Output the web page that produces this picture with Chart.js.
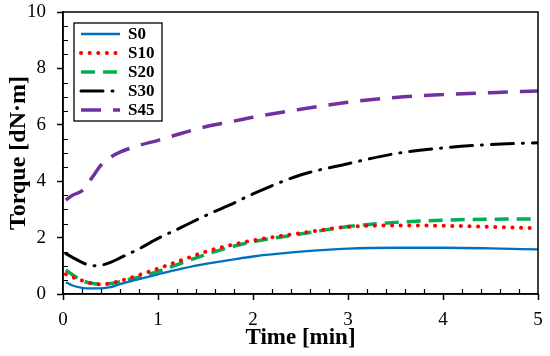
<!DOCTYPE html>
<html>
<head>
<meta charset="utf-8">
<script src="https://cdn.jsdelivr.net/npm/chart.js@4"></script>
<style>
  html, body { margin: 0; padding: 0; background: #fff; }
  #wrap { width: 550px; height: 356px; }
</style>
</head>
<body>
<div id="wrap"><canvas id="torque"></canvas></div>
<script>
// tempo em minutos (eixo x)
const times = [0.03, 0.1, 0.2, 0.3, 0.4, 0.5, 0.6, 0.8, 1.0, 1.25, 1.5, 1.75, 2.0, 2.5, 3.0, 3.5, 4.0, 4.5, 5.0];

// torque [dN·m]
const s0  = [0.42, 0.30, 0.22, 0.20, 0.20, 0.24, 0.35, 0.53, 0.70, 0.90, 1.07, 1.20, 1.33, 1.50, 1.61, 1.64, 1.64, 1.62, 1.58];
const s10 = [0.70, 0.60, 0.48, 0.38, 0.34, 0.38, 0.46, 0.67, 0.90, 1.20, 1.50, 1.72, 1.90, 2.16, 2.38, 2.43, 2.42, 2.38, 2.33];
const s20 = [0.85, 0.68, 0.48, 0.38, 0.35, 0.37, 0.44, 0.60, 0.80, 1.10, 1.40, 1.65, 1.85, 2.13, 2.39, 2.54, 2.62, 2.65, 2.66];
const s30 = [1.43, 1.30, 1.12, 1.00, 1.02, 1.12, 1.28, 1.60, 1.97, 2.37, 2.78, 3.15, 3.55, 4.22, 4.62, 4.98, 5.18, 5.30, 5.36];
const s45 = [3.33, 3.50, 3.66, 4.10, 4.57, 4.85, 5.03, 5.27, 5.45, 5.70, 5.93, 6.10, 6.27, 6.55, 6.80, 6.97, 7.07, 7.14, 7.20];

const seriesNames = ['S0', 'S10', 'S20', 'S30', 'S45'];

const serif = "'Liberation Serif', 'Times New Roman', serif";

function pontos(values) {
    return values.map((v, i) => ({ x: times[i], y: v }));
}

// moldura + marcas menores (para dentro)
const frame = {
    id: 'frame',
    afterDraw(chart) {
        const a = chart.chartArea;
        const ctx = chart.ctx;
        const sx = chart.scales.x, sy = chart.scales.y;
        ctx.save();
        ctx.strokeStyle = '#000';
        ctx.lineWidth = 1.5;
        ctx.strokeRect(a.left, a.top, a.right - a.left, a.bottom - a.top);
        ctx.lineWidth = 1.2;
        ctx.beginPath();
        for (let k = 1; k < 25; k++) {
            if (k % 5 === 0) continue;
            const px = Math.round(sx.getPixelForValue(k * 0.2)) + 0.5;
            ctx.moveTo(px, a.bottom);
            ctx.lineTo(px, a.bottom - 5);
        }
        for (let k = 1; k < 20; k++) {
            if (k % 4 === 0) continue;
            const py = Math.round(sy.getPixelForValue(k * 0.5)) + 0.5;
            ctx.moveTo(a.left, py);
            ctx.lineTo(a.left + 5, py);
        }
        ctx.stroke();
        ctx.restore();
    }
};

// legenda com caixa dentro da área do gráfico
const boxLegend = {
    id: 'boxLegend',
    afterDraw(chart) {
        const ctx = chart.ctx;
        const left = 74, top = 23, w = 88, h = 98;
        ctx.save();
        ctx.fillStyle = '#fff';
        ctx.fillRect(left, top, w, h);
        ctx.strokeStyle = '#000';
        ctx.lineWidth = 1.3;
        ctx.strokeRect(left, top, w, h);
        ctx.font = "bold 17px " + serif;
        ctx.textBaseline = 'middle';
        chart.data.datasets.forEach((ds, i) => {
            const y = 34 + i * 19;
            ctx.beginPath();
            ctx.strokeStyle = ds.borderColor;
            ctx.lineWidth = ds.borderWidth;
            ctx.lineCap = ds.borderCapStyle || 'butt';
            ctx.setLineDash(ds.borderDash || []);
            ctx.moveTo(81, y);
            ctx.lineTo(120, y);
            ctx.stroke();
            ctx.setLineDash([]);
            ctx.fillStyle = '#000';
            ctx.fillText(ds.label, 128, y + 1);
        });
        ctx.restore();
    }
};

const ctx = document.getElementById('torque').getContext('2d');

new Chart(ctx, {
    type: 'line',
    data: {
        datasets: [
            {
                label: seriesNames[0],
                data: pontos(s0),
                borderColor: '#0070C0',
                borderWidth: 2.3
            },
            {
                label: seriesNames[1],
                data: pontos(s10),
                borderColor: '#FF0000',
                borderWidth: 4,
                borderDash: [0.1, 8.5],
                borderCapStyle: 'round'
            },
            {
                label: seriesNames[2],
                data: pontos(s20),
                borderColor: '#00B050',
                borderWidth: 3.5,
                borderDash: [14, 8]
            },
            {
                label: seriesNames[3],
                data: pontos(s30),
                borderColor: '#000000',
                borderWidth: 3,
                borderDash: [22, 9, 1, 9],
                borderCapStyle: 'round'
            },
            {
                label: seriesNames[4],
                data: pontos(s45),
                borderColor: '#7030A0',
                borderWidth: 3.5,
                borderDash: [20, 12]
            }
        ]
    },
    options: {
        responsive: true,
        maintainAspectRatio: false,
        animation: false,
        layout: { padding: { top: 12, right: 12, left: 0, bottom: 0 } },
        elements: {
            point: { radius: 0 },
            line: { cubicInterpolationMode: 'monotone', fill: false }
        },
        plugins: {
            legend: { display: false },
            tooltip: { enabled: false }
        },
        scales: {
            x: {
                type: 'linear',
                position: 'bottom',
                min: 0,
                max: 5,
                ticks: {
                    stepSize: 1,
                    color: '#000',
                    font: { family: serif, size: 19 },
                    padding: 9
                },
                grid: { drawOnChartArea: false, tickLength: 6, tickColor: '#000', tickWidth: 1.5 },
                border: { color: '#000', width: 1.5 },
                title: {
                    display: true,
                    text: 'Time [min]',
                    color: '#000',
                    font: { family: serif, size: 23, weight: 'bold' },
                    padding: { top: 0, bottom: 4 }
                },
                afterFit(scale) {
                    scale.height = 62;
                    scale.paddingLeft = 0;
                    scale.paddingRight = 0;
                }
            },
            y: {
                type: 'linear',
                position: 'left',
                min: 0,
                max: 10,
                ticks: {
                    stepSize: 2,
                    color: '#000',
                    font: { family: serif, size: 19 },
                    padding: 11
                },
                grid: { drawOnChartArea: false, tickLength: 6, tickColor: '#000', tickWidth: 1.5 },
                border: { color: '#000', width: 1.5 },
                title: {
                    display: true,
                    text: 'Torque [dN·m]',
                    color: '#000',
                    font: { family: serif, size: 24, weight: 'bold' },
                    padding: { top: 4, bottom: 0 }
                },
                afterFit(scale) {
                    scale.width = 63;
                    scale.paddingTop = 0;
                    scale.paddingBottom = 0;
                }
            }
        }
    },
    plugins: [frame, boxLegend]
});
</script>
</body>
</html>
